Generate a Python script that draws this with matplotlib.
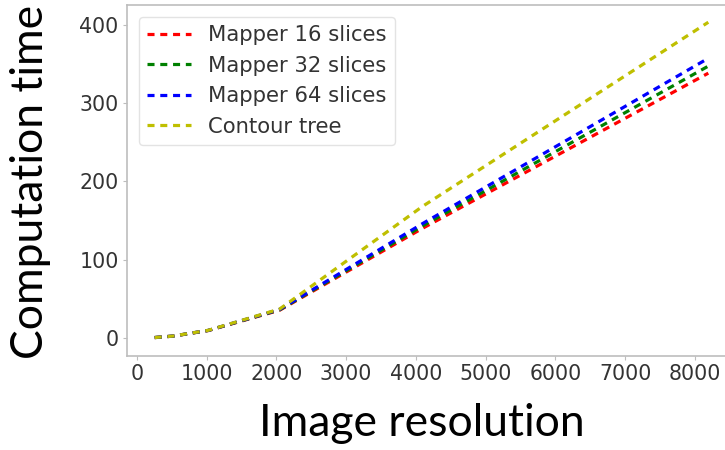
import matplotlib
matplotlib.use("Agg")
import matplotlib.pyplot as plt

plt.rcParams["font.family"] = ["DejaVu Sans"]

# Image resolution (pixels per side) and computation time for each method
resolution = [256, 512, 1024, 2048, 4096, 8192]
mapper_16 = [0.5, 2.3, 9.5, 35.5, 140, 338]
mapper_32 = [0.5, 2.3, 9.6, 36.0, 143, 347]
mapper_64 = [0.6, 2.4, 9.7, 36.5, 146, 357]
contour_tree = [0.6, 2.4, 9.8, 37.0, 168, 403]

series = [
    ("Mapper 16 slices", mapper_16, "r"),
    ("Mapper 32 slices", mapper_32, "g"),
    ("Mapper 64 slices", mapper_64, "b"),
    ("Contour tree", contour_tree, "y"),
]

W, H = 725, 450
fig = plt.figure(figsize=(W / 100, H / 100), dpi=100)
ax = fig.add_axes([127 / W, 1 - 356 / H, (736 - 127) / W, (356 - 5) / H])

for label, values, color in series:
    ax.plot(resolution, values, color=color, linestyle=(0, (2.2, 1.8)),
            linewidth=2.3, label=label)

ax.set_xlim(-141, 8589)
ax.set_ylim(-23, 425)
ax.set_xticks(range(0, 8001, 1000))
ax.set_yticks(range(0, 401, 100))

for side in ("top", "right", "left", "bottom"):
    ax.spines[side].set_color("#bdbdbd")
    ax.spines[side].set_linewidth(1.2)
ax.tick_params(axis="both", labelsize=14.8, colors="#bdbdbd", labelcolor="#333333",
               length=3, width=0.8, pad=3)

leg = ax.legend(loc="upper left", fontsize=15.2, frameon=True, fancybox=True,
                borderaxespad=0.55, handlelength=2.1, labelspacing=0.5)
leg.get_frame().set_edgecolor("#dddddd")
leg.get_frame().set_linewidth(1.0)
for t in leg.get_texts():
    t.set_color("#333333")

fig.text(31 / W, 1 - 182 / H, "Computation time", rotation=90, ha="center",
         va="center", fontsize=32, family=["Lato", "DejaVu Sans"], color="black")
fig.text(422 / W, 1 - 423 / H, "Image resolution", ha="center", va="center",
         fontsize=32, family=["Lato", "DejaVu Sans"], color="black")

fig.savefig("out.png", dpi=100)
